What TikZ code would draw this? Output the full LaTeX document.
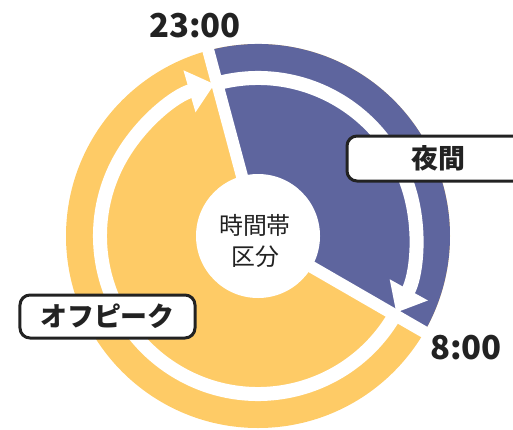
\documentclass[tikz,border=0pt]{standalone}
\usepackage{fontspec}
\newfontfamily\jpfont{Noto Sans CJK JP}
\usetikzlibrary{arrows.meta,positioning}
\definecolor{offpeak}{HTML}{FECB66}
\definecolor{night}{HTML}{5E659E}
\definecolor{ink}{HTML}{222222}

\begin{document}
\begin{tikzpicture} [x=1bp,y=1bp,{tag/.style={rectangle,draw=ink,line width=3bp,fill=white,rounded corners=10bp,inner sep=0pt,text=ink,font=\jpfont\bfseries\fontsize{27}{27}\selectfont}},{hour/.style={text=ink,font=\jpfont\bfseries\fontsize{33}{33}\selectfont}},{divide/.style={white,line width=12bp}},{flow/.style={white,line width=14bp,-{Triangle[length=26bp,width=42bp]}}}]
		\useasboundingbox (0,0) rectangle (513,429);
		\coordinate (c) at (258,193);
		%%sectors
		\fill [offpeak] (c) circle [radius=192];
		\fill [night] (c) -- ++(105:192) arc [start angle=105,end angle=-30,radius=192] -- cycle;
		%%sector borders
		\draw [divide] (c) -- ++(105:193);
		\draw [divide] (c) -- ++(-30:193);
		%%arrows
		\draw [flow] ([shift={(-30:158)}]c) arc [start angle=-30,end angle=-254,radius=158];
		\draw [flow] ([shift={(105:158)}]c) arc [start angle=105,end angle=-29,radius=158];
		%%hub
		\node at (c) [circle,fill=white,minimum size=124bp,inner sep=0pt] (hub) {};
		\node at (255,188) [align=center,text=ink,font=\jpfont\fontsize{24}{32}\selectfont] (hubtext) {時間帯\\区分};
		%%times
		\node at (195,403) [hour] (t23) {23:00};
		\node at (466,81) [hour] (t8) {8:00};
		%%labels
		\node at (438.5,270.5) [tag,minimum width=183bp,minimum height=45bp] (nightlab) {夜間};
		\node at (107.5,112.5) [tag,minimum width=175bp,minimum height=43bp] (offlab) {オフピーク};
	\end{tikzpicture}
\end{document}
